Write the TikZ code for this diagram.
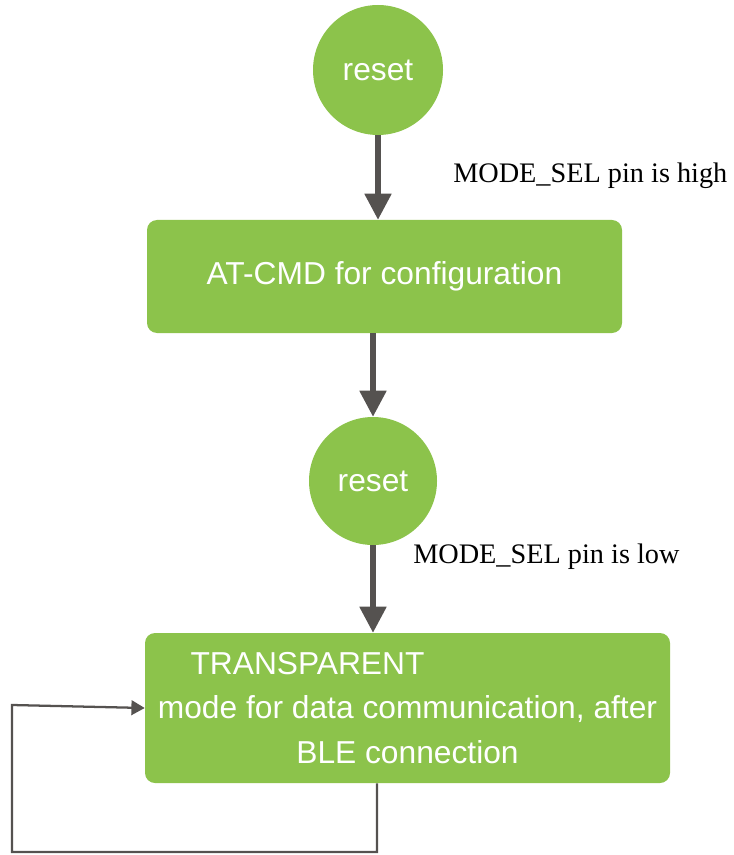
\documentclass[tikz,border=0pt]{standalone}
\usepackage{fontspec}
\setmainfont{Liberation Serif}
\setsansfont{Liberation Sans}
\usetikzlibrary{arrows.meta}
\definecolor{grn}{RGB}{140,195,75}
\definecolor{arr}{RGB}{85,82,80}
\begin{document}
\begin{tikzpicture}[x=0.75pt,y=-0.75pt,
  sans/.style={font=\sffamily\fontsize{23.8}{33.5}\selectfont},
  circ/.style={circle, fill=grn, inner sep=0pt, text=white, sans},
  box/.style={rectangle, rounded corners=7.5pt, fill=grn, text=white, inner sep=0pt, sans},
  bigarrow/.style={draw=arr, line width=3.8pt, -{Triangle[width=19.5pt,length=19.5pt]}},
  looparrow/.style={draw=arr, line width=1.7pt, -{Triangle[width=11pt,length=10pt]}},
  lbl/.style={font=\rmfamily\fontsize{21.2}{25}\selectfont, anchor=base west, inner sep=0pt}]
\useasboundingbox (0,0) rectangle (733,855);
\node[circ, minimum size=97.5pt] (c1) at (378,70) {reset};
\node[box, minimum width=356.25pt, minimum height=84.75pt] (b1) at (384.5,276.5) {AT-CMD for configuration};
\node[circ, minimum size=96pt] (c2) at (373,481) {reset};
\node[box, minimum width=393.75pt, minimum height=112.5pt, align=center] (b2) at (407.5,708)
  {TRANSPARENT\hspace*{150pt}\\mode for data communication, after\\BLE connection};
\node[lbl] (t1) at (453,183) {MODE\_SEL pin is high};
\node[lbl] (t2) at (413,563) {MODE\_SEL pin is low};
\draw[bigarrow] (c1.south) -- (c1.south |- b1.north);
\draw[bigarrow] (b1.south -| c2) -- (c2.north);
\draw[bigarrow] (c2.south) -- (c2.south |- b2.north);
\coordinate (l1) at (377,852);
\coordinate (l2) at (12,852);
\coordinate (l3) at (12,705);
\draw[looparrow] (b2.south -| l1) -- (l1) -- (l2) -- (l3) -- (b2.west);
\end{tikzpicture}
\end{document}
